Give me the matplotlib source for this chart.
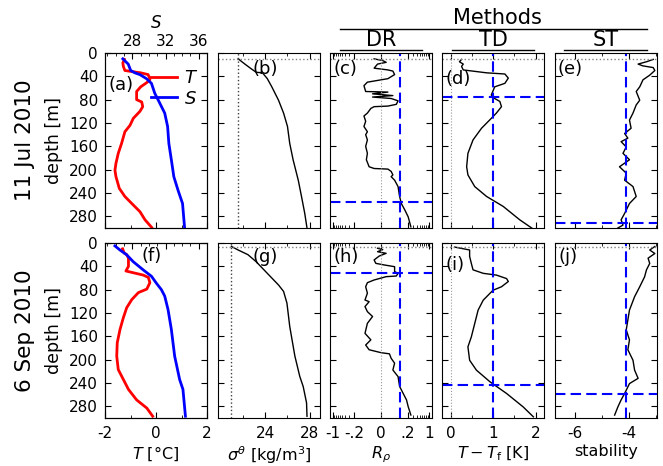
import numpy as np
import matplotlib
matplotlib.use('Agg')
import matplotlib.pyplot as plt
from matplotlib.lines import Line2D

plt.rcParams['axes.unicode_minus'] = False
plt.rcParams['font.family'] = ['DejaVu Sans']

# ---- 11 Jul 2010 ----
T_jul_z = [11, 17, 23, 30, 34, 37, 42, 46, 51, 58, 66, 80, 84, 92, 100, 112, 124, 135, 155, 172, 189, 201, 212, 232, 246, 258, 272, 286, 299]
T_jul = [-1.24, -1.30, -1.28, -1.22, -0.6, -0.31, -0.26, -0.24, -0.37, -0.60, -0.76, -0.76, -0.56, -0.52, -0.63, -0.89, -1.02, -1.22, -1.35, -1.48, -1.57, -1.61, -1.57, -1.44, -1.22, -0.95, -0.63, -0.43, -0.17]
S_jul_z = [10, 19, 30, 34, 37, 44, 52, 69, 83, 103, 126, 155, 183, 212, 235, 258, 300]
S_jul = [26.85, 27.5, 27.8, 28.3, 28.9, 29.7, 30.3, 30.7, 31.2, 31.9, 32.25, 32.4, 32.7, 33.0, 33.5, 34.05, 34.3]
sig_jul_z = [10, 19, 27, 33, 34, 44, 58, 81, 103, 126, 155, 183, 218, 246, 275, 300]
sig_jul = [21.6, 22.2, 22.76, 23.2, 23.77, 24.2, 24.6, 25.2, 25.65, 26.0, 26.2, 26.5, 26.96, 27.25, 27.54, 27.74]
R_jul_z = [10, 13, 16, 19, 26, 29, 31, 37, 44, 50, 56, 66, 67, 70, 73, 75.5, 78, 80, 82, 88, 91, 92, 95, 103, 108, 117, 126, 135, 140, 149, 160, 172, 183, 195, 198, 199, 203, 209, 212, 218, 229, 246, 258, 269, 281, 298]
R_jul = [-0.040, 0.010, 0.030, -0.020, -0.040, 0.040, 0.069, 0.079, 0.040, -0.079, -0.099, -0.089, 0.040, -0.049, 0.069, -0.049, 0.059, 0.079, 0.099, 0.089, 0.040, -0.040, -0.059, -0.079, -0.099, -0.089, -0.099, -0.079, -0.089, -0.079, -0.089, -0.079, -0.085, -0.069, -0.040, 0.040, 0.059, 0.069, 0.059, 0.079, 0.099, 0.111, 0.126, 0.163, 0.21, 0.256]
TD_jul_z = [11, 15, 19, 23, 29, 34, 36, 43, 52, 58, 72, 78, 83, 92, 103, 115, 129, 149, 172, 195, 209, 229, 246, 263, 286, 300]
TD_jul = [0.26, 0.21, 0.30, 0.26, 0.30, 0.85, 1.28, 1.36, 1.28, 1.04, 0.96, 1.04, 1.16, 1.20, 1.08, 0.92, 0.73, 0.53, 0.41, 0.38, 0.41, 0.57, 0.85, 1.24, 1.63, 1.91]
ST_jul_z = [11, 15, 19, 22, 25, 30, 38, 46, 58, 66, 81, 89, 103, 115, 129, 138, 146, 152, 161, 172, 183, 195, 206, 218, 229, 246, 258, 275, 286, 295, 300]
ST_jul = [-3.11, -3.36, -3.67, -3.5, -3.11, -3.05, -3.24, -3.49, -3.61, -3.74, -3.61, -3.74, -3.86, -3.99, -3.93, -4.17, -4.05, -4.30, -4.11, -4.23, -3.99, -4.36, -4.11, -4.17, -3.86, -3.74, -3.99, -4.17, -4.30, -4.23, -4.42]

# ---- 6 Sep 2010 ----
T_sep_z = [10, 17, 20, 26, 40, 48, 51, 55, 59, 68, 79, 85, 97, 111, 128, 148, 171, 194, 217, 234, 251, 269, 283, 297]
T_sep = [-1.31, -1.25, -1.15, -1.08, -1.08, -1.18, -0.89, -0.5, -0.30, -0.24, -0.36, -0.69, -0.95, -1.15, -1.28, -1.41, -1.52, -1.54, -1.48, -1.28, -1.08, -0.76, -0.36, -0.13]
S_sep_z = [5, 12, 20, 32, 46, 57, 69, 80, 91, 114, 148, 194, 234, 251, 297]
S_sep = [25.9, 26.5, 27.3, 28.1, 29.3, 30.3, 30.9, 31.5, 31.9, 32.3, 32.7, 33.1, 33.7, 34.1, 34.4]
sig_sep_z = [6, 12, 20, 32, 52, 72, 83, 103, 143, 194, 229, 246, 274, 297]
sig_sep = [21.0, 21.6, 22.47, 23.2, 24.2, 25.2, 25.65, 25.95, 26.2, 26.66, 27.1, 27.4, 27.7, 27.74]
R_sep_z = [9, 11.4, 14.9, 17.7, 22.3, 29, 34.9, 37.7, 40.6, 49, 52, 56.6, 57.7, 63.4, 68, 75, 86, 97.7, 100.6, 109, 117.7, 126, 137.7, 154.9, 166, 174.9, 183, 188, 190, 197.7, 206, 217.7, 229, 246, 257.7, 269, 280.6, 294.9]
R_sep = [-0.020, 0.010, -0.020, 0.030, -0.010, -0.040, -0.030, 0.020, 0.079, 0.079, 0.099, 0.089, 0.030, -0.040, -0.079, -0.089, -0.079, -0.093, -0.069, -0.093, -0.079, -0.049, -0.079, -0.093, -0.059, -0.089, -0.069, 0.0, 0.049, 0.059, 0.079, 0.069, 0.099, 0.111, 0.144, 0.185, 0.21, 0.256]
TD_sep_z = [7, 12, 23, 35, 46, 52, 55, 61, 66, 75, 81, 98, 115, 138, 161, 178, 201, 218, 238, 258, 281, 298]
TD_sep = [0.10, 0.45, 0.45, 0.49, 0.53, 0.77, 1.08, 1.32, 1.36, 1.20, 1.00, 0.77, 0.65, 0.57, 0.49, 0.41, 0.45, 0.61, 0.93, 1.32, 1.71, 1.95]
ST_sep_z = [6, 12, 18, 26, 35, 46, 58, 75, 92, 115, 132, 149, 166, 183, 201, 218, 232, 241, 258, 269, 281, 295]
ST_sep = [-3.05, -3.24, -3.05, -3.30, -3.24, -3.36, -3.43, -3.61, -3.80, -3.99, -4.05, -4.11, -3.99, -4.05, -3.86, -3.80, -3.67, -3.99, -4.17, -4.30, -4.42, -4.54]

# thresholds / reference lines
top_depth = [10.8, 6.3]
sig_surf = [21.6, 21.0]
dr_crit, td_crit, st_crit = 0.115, 1.0, -4.13
dr_mld = [255, 52]
td_mld = [75, 244]
st_mld = [292, 259]
dates = ['11 Jul 2010', '6 Sep 2010']
letters = [['(a)', '(b)', '(c)', '(d)', '(e)'], ['(f)', '(g)', '(h)', '(i)', '(j)']]
let_pos = [[(0.03, 0.82), (0.34, 0.91), (0.03, 0.91), (0.03, 0.85), (0.02, 0.91)],
           [(0.36, 0.925), (0.34, 0.92), (0.03, 0.92), (0.03, 0.875), (0.03, 0.92)]]

rows = [
    (T_jul_z, T_jul, S_jul_z, S_jul, sig_jul_z, sig_jul, R_jul_z, R_jul, TD_jul_z, TD_jul, ST_jul_z, ST_jul),
    (T_sep_z, T_sep, S_sep_z, S_sep, sig_sep_z, sig_sep, R_sep_z, R_sep, TD_sep_z, TD_sep, ST_sep_z, ST_sep),
]

W, H = 663., 466.
lefts = [105, 218, 330, 442, 555]
tops = [53, 243]
aw, ah = 102, 175

fig = plt.figure(figsize=(W / 100, H / 100), dpi=100)
fs = 11


def style(ax, row, col, top=True):
    ax.set_ylim(300, 0)
    ax.set_yticks(range(0, 281, 40))
    ax.tick_params(which='both', direction='in', top=top, right=True, labelsize=fs, pad=5)
    ax.tick_params(axis='x', pad=6)
    ax.tick_params(which='major', length=4)
    ax.tick_params(which='minor', length=2)
    if col > 0:
        ax.tick_params(labelleft=False)
    if row == 0:
        ax.tick_params(labelbottom=False)


for r, data in enumerate(rows):
    Tz, T, Sz, S, gz, g, Rz, R, Dz, D, Nz, N = data
    axs = [fig.add_axes([lefts[c] / W, 1 - (tops[r] + ah) / H, aw / W, ah / H]) for c in range(5)]

    # (a)/(f) temperature + salinity
    ax = axs[0]
    lT, = ax.plot(T, Tz, color='red', lw=2, label='$T$')
    ax.set_xlim(-2, 2)
    ax.set_xticks([-2, 0, 2])
    ax.set_xticks([-1, 1], minor=True)
    style(ax, r, 0, top=False)
    tw = ax.twiny()
    lS, = tw.plot(S, Sz, color='blue', lw=2, label='$S$')
    tw.set_xlim(24.7, 37.0)
    tw.set_xticks([28, 32, 36])
    tw.set_xticks(np.arange(25, 37.5, 1), minor=True)
    tw.set_ylim(300, 0)
    tw.tick_params(which='both', direction='in', labelsize=fs, pad=3)
    tw.tick_params(which='major', length=4)
    tw.tick_params(which='minor', length=2)
    if r == 0:
        tw.set_xlabel('$S$', fontsize=12, labelpad=4)
        tw.legend(handles=[lT, lS], loc='upper right', bbox_to_anchor=(1.0, 0.96), frameon=False,
                  fontsize=13, handlelength=1.4, handletextpad=0.4, labelspacing=0.15, borderaxespad=0.1)
    else:
        tw.tick_params(labeltop=False)
        ax.set_xlabel('$T$ [°C]', fontsize=11.5, labelpad=2)

    # (b)/(g) potential density
    ax = axs[1]
    ax.plot(g, gz, color='k', lw=1)
    ax.axvline(sig_surf[r], color='0.25', ls=':', lw=1)
    ax.set_xlim(19.8, 28.9)
    ax.set_xticks([24, 28])
    ax.set_xticks([22, 26], minor=True)
    style(ax, r, 1)
    if r == 1:
        ax.set_xlabel(r'$\sigma^\theta$ [kg/m$^3$]', fontsize=11.5, labelpad=2)

    # (c)/(h) density ratio
    ax = axs[2]
    ax.set_xscale('symlog', linthresh=0.1, linscale=0.5)
    ax.plot(R, Rz, color='k', lw=1)
    ax.axvline(0, color='0.6', ls=':', lw=0.8)
    ax.axvline(dr_crit, color='blue', lw=1.5, dashes=(5, 2.5))
    ax.axhline(dr_mld[r], color='blue', lw=1.5, dashes=(5, 2.5))
    ax.set_xlim(-1.23, 1.23)
    ax.set_xticks([-1, -0.2, 0, 0.2, 1])
    ax.set_xticklabels(['-1', '-.2', '0', '.2', '1'])
    mn = [0.3, 0.4, 0.5, 0.6, 0.7, 0.8, 0.9]
    ax.set_xticks([-v for v in mn] + mn, minor=True)
    style(ax, r, 2)
    if r == 1:
        ax.set_xlabel(r'$R_\rho$', fontsize=11.5, labelpad=2)

    # (d)/(i) temperature difference
    ax = axs[3]
    ax.plot(D, Dz, color='k', lw=1)
    ax.axvline(0, color='0.6', ls=':', lw=0.8)
    ax.axvline(td_crit, color='blue', lw=1.5, dashes=(5, 2.5))
    ax.axhline(td_mld[r], color='blue', lw=1.5, dashes=(5, 2.5))
    ax.set_xlim(-0.2, 2.2)
    ax.set_xticks([0, 1, 2])
    ax.set_xticks([0.5, 1.5], minor=True)
    style(ax, r, 3)
    if r == 1:
        ax.set_xlabel(r'$T - T_\mathrm{f}$ [K]', fontsize=11.5, labelpad=2)

    # (e)/(j) stability
    ax = axs[4]
    ax.plot(N, Nz, color='k', lw=1)
    ax.axvline(st_crit, color='blue', lw=1.5, dashes=(5, 2.5))
    ax.axhline(st_mld[r], color='blue', lw=1.5, dashes=(5, 2.5))
    ax.set_xlim(-6.75, -2.97)
    ax.set_xticks([-6, -4])
    ax.set_xticks([-5, -3], minor=True)
    style(ax, r, 4)
    if r == 1:
        ax.set_xlabel('stability', fontsize=11.5, labelpad=2)

    for c in range(1, 5):
        axs[c].axhline(top_depth[r], color='0.5', ls=':', lw=1)
    for c in range(5):
        x, y = let_pos[r][c]
        axs[c].text(x, y, letters[r][c], transform=axs[c].transAxes, fontsize=13,
                    ha='left', va='center', zorder=5)

    yc = 1 - (tops[r] + ah / 2) / H
    fig.text(25 / W, yc, dates[r], rotation=90, fontsize=15.5, ha='center', va='center')
    fig.text(54 / W, yc, 'depth [m]', rotation=90, fontsize=12.5, ha='center', va='center')

# header: Methods / DR / TD / ST
fig.text(497 / W, 1 - 18 / H, 'Methods', fontsize=15, ha='center', va='center')
fig.add_artist(Line2D([340 / W, 647 / W], [1 - 29 / H, 1 - 29 / H], color='k', lw=1))
for name, x0, x1 in [('DR', 340, 422), ('TD', 452, 534), ('ST', 564, 647)]:
    fig.text((x0 + x1) / 2 / W, 1 - 40 / H, name, fontsize=15, ha='center', va='center')
    fig.add_artist(Line2D([x0 / W, x1 / W], [1 - 50 / H, 1 - 50 / H], color='k', lw=1))

fig.savefig('out.png', dpi=100)
